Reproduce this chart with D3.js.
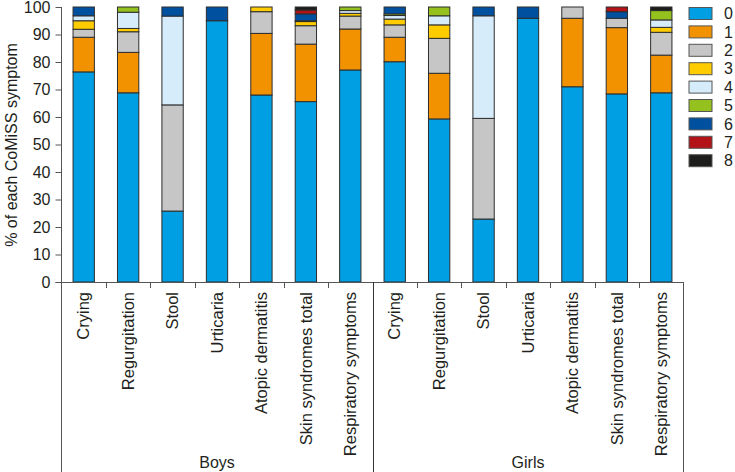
<!DOCTYPE html>
<html>
<head>
<meta charset="utf-8">
<script src="https://cdn.jsdelivr.net/npm/d3@7"></script>
<style>
  body { margin: 0; background: #fff; }
  text { font-family: "Liberation Sans", Arial, sans-serif; fill: #231f20; }
</style>
</head>
<body>
<svg id="chart" width="735" height="472"></svg>
<script>
const groups = ["Boys", "Girls"];
const symptoms = ["Crying", "Regurgitation", "Stool", "Urticaria", "Atopic dermatitis", "Skin syndromes total", "Respiratory symptoms"];
const seriesKeys = ["0", "1", "2", "3", "4", "5", "6", "7", "8"];
const seriesColors = ["#009fe3", "#f39200", "#c6c6c6", "#ffcc00", "#d7ecfa", "#95c11f", "#0050a0", "#b31217", "#1d1d1b"];
const yTicks = [0, 10, 20, 30, 40, 50, 60, 70, 80, 90, 100];

// values per bar: Boys (7 symptoms) then Girls (7 symptoms)
const s0 = [76.4, 68.8, 25.8, 95.0, 68.0, 65.6, 77.1, 80.1, 59.3, 22.9, 95.9, 71.0, 68.4, 68.8];
const s1 = [12.6, 14.7, 0, 0, 22.4, 20.9, 14.9, 8.9, 16.6, 0, 0, 24.9, 24.1, 13.7];
const s2 = [2.9, 7.5, 38.6, 0, 7.9, 6.7, 4.7, 4.5, 12.7, 36.6, 0, 4.1, 3.4, 8.3];
const s3 = [3.1, 1.2, 0, 0, 1.7, 1.5, 1.0, 2.1, 4.9, 0, 0, 0, 0, 1.8];
const s4 = [1.8, 5.9, 32.3, 0, 0, 0.3, 1.0, 1.3, 3.3, 37.3, 0, 0, 0, 2.7];
const s5 = [0, 1.9, 0, 0, 0, 0, 1.3, 0.6, 3.2, 0, 0, 0, 0, 3.4];
const s6 = [3.2, 0, 3.3, 5.0, 0, 2.5, 0, 2.5, 0, 3.2, 4.1, 0, 2.4, 0];
const s7 = [0, 0, 0, 0, 0, 1.4, 0, 0, 0, 0, 0, 0, 1.7, 0];
const s8 = [0, 0, 0, 0, 0, 1.1, 0, 0, 0, 0, 0, 0, 0, 1.3];
const seriesValues = [s0, s1, s2, s3, s4, s5, s6, s7, s8];

// build table
const bars = [];
groups.forEach((g, gi) => symptoms.forEach((s, si) => {
  const i = gi * symptoms.length + si;
  const row = { id: g + "|" + s, group: g, symptom: s };
  seriesKeys.forEach((k, ki) => row[k] = seriesValues[ki][i]);
  bars.push(row);
}));

const svg = d3.select("#chart");
const mLeft = 61.5, mRight = 683.5, mTop = 7, mBottom = 282, chartBottom = 472;

const x = d3.scaleBand().domain(bars.map(d => d.id)).range([mLeft, mRight]).paddingInner(0.52).paddingOuter(0.26);
const y = d3.scaleLinear().domain([0, 100]).range([mBottom, mTop]);
const color = d3.scaleOrdinal().domain(seriesKeys).range(seriesColors);

const stacked = d3.stack().keys(seriesKeys)(bars);

const axisColor = "#555";

// bars
svg.append("g").selectAll("g").data(stacked).join("g")
  .attr("fill", d => color(d.key))
  .selectAll("rect").data(d => d.filter(s => s[1] - s[0] > 0)).join("rect")
  .attr("x", d => x(d.data.id))
  .attr("width", x.bandwidth())
  .attr("y", d => y(d[1]))
  .attr("height", d => y(d[0]) - y(d[1]))
  .attr("stroke", "#2d2d2d")
  .attr("stroke-width", 1);

// y axis
const yAxis = svg.append("g").attr("transform", `translate(${mLeft},0)`)
  .call(d3.axisLeft(y).tickValues(yTicks).tickSize(6).tickPadding(5));
yAxis.select(".domain").remove();
yAxis.selectAll("line").attr("stroke", axisColor);
yAxis.selectAll("text").style("font-size", "16px").style("font-family", "'Liberation Sans', Arial, sans-serif").attr("fill", "#231f20");

// left line extending down
svg.append("line").attr("x1", mLeft).attr("x2", mLeft).attr("y1", mTop).attr("y2", chartBottom).attr("stroke", axisColor);
// baseline
svg.append("line").attr("x1", mLeft - 6).attr("x2", mRight).attr("y1", mBottom + 0.5).attr("y2", mBottom + 0.5).attr("stroke", axisColor);
// right line
svg.append("line").attr("x1", mRight).attr("x2", mRight).attr("y1", mBottom).attr("y2", chartBottom).attr("stroke", axisColor);

// category boundary ticks & group separator
const step = x.step();
const boundaries = d3.range(1, bars.length).map(i => mLeft + i * (mRight - mLeft) / bars.length);
boundaries.forEach((bx, i) => {
  const isGroup = (i + 1) % symptoms.length === 0;
  svg.append("line")
    .attr("x1", Math.round(bx) + 0.5).attr("x2", Math.round(bx) + 0.5)
    .attr("y1", mBottom).attr("y2", isGroup ? chartBottom : mBottom + 6)
    .attr("stroke", isGroup ? "#333" : axisColor);
});

// category labels
svg.append("g").selectAll("text").data(bars).join("text")
  .attr("transform", d => `translate(${x(d.id) + x.bandwidth() / 2},${mBottom + 10}) rotate(-90)`)
  .attr("text-anchor", "end")
  .attr("dy", "0.35em")
  .style("font-size", "16.5px")
  .text(d => d.symptom);

// group labels
groups.forEach((g) => {
  const ids = bars.filter(d => d.group === g).map(d => d.id);
  const x0 = x(ids[0]) - (step - x.bandwidth()) / 2;
  const x1 = x(ids[ids.length - 1]) + x.bandwidth() + (step - x.bandwidth()) / 2;
  svg.append("text").attr("x", (x0 + x1) / 2).attr("y", 468)
    .attr("text-anchor", "middle").style("font-size", "16px").text(g);
});

// y title
svg.append("text")
  .attr("transform", `translate(11,145) rotate(-90)`)
  .attr("text-anchor", "middle").attr("dy", "0.35em")
  .style("font-size", "16px")
  .text("% of each CoMiSS symptom");

// legend
const legend = svg.append("g").selectAll("g").data(seriesKeys).join("g")
  .attr("transform", (d, i) => `translate(689,${13.5 + i * 18.4})`);
legend.append("rect").attr("x", 0).attr("y", -6).attr("width", 23).attr("height", 12)
  .attr("fill", d => color(d)).attr("stroke", "#555").attr("stroke-width", 1);
legend.append("text").attr("x", 35).attr("dy", "0.35em").style("font-size", "16px").text(d => d);
</script>
</body>
</html>
